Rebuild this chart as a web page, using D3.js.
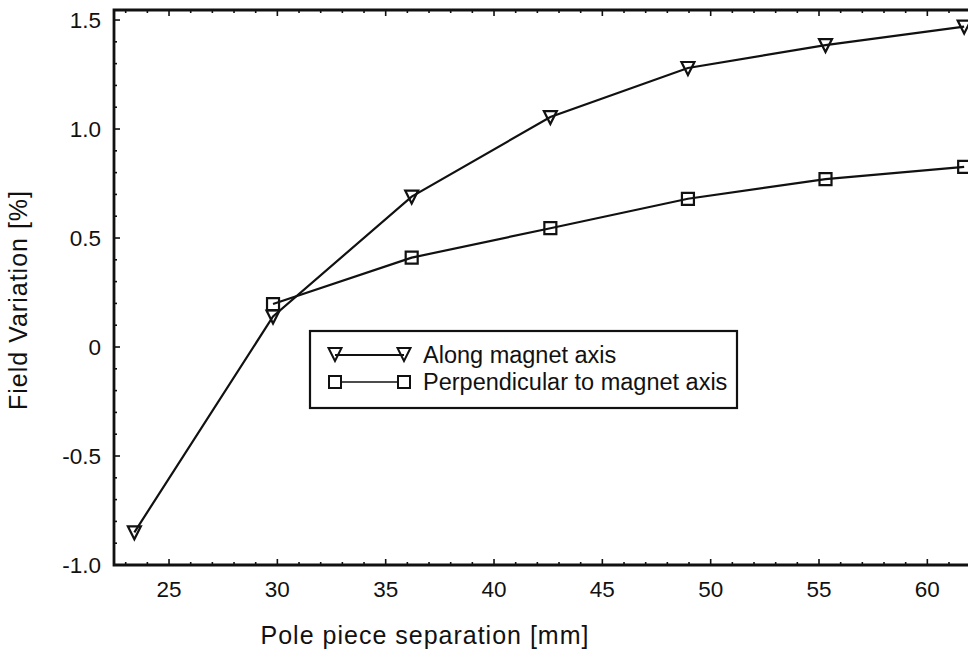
<!DOCTYPE html>
<html>
<head>
<meta charset="utf-8">
<script src="https://cdn.jsdelivr.net/npm/d3@7"></script>
<style>
  html, body { margin: 0; padding: 0; background: #fff; }
  text { font-family: 'Liberation Sans', Arial, Helvetica, sans-serif; fill: #111; }
</style>
</head>
<body>
<script>
// pole piece separation [mm]
const separation = [23.4, 29.8, 36.2, 42.6, 48.95, 55.3, 61.7];
// field variation [%]
const alongAxis = [-0.85, 0.14, 0.69, 1.055, 1.28, 1.385, 1.47];
const perpAxis = [null, 0.197, 0.41, 0.545, 0.68, 0.77, 0.826];

const xTicks = [25, 30, 35, 40, 45, 50, 55, 60];
const yTicks = [-1.0, -0.5, 0, 0.5, 1.0, 1.5];
const yTickLabels = ['-1.0', '-0.5', '0', '0.5', '1.0', '1.5'];

const seriesNames = ['Along magnet axis', 'Perpendicular to magnet axis'];

const width = 968, height = 650;
const plotLeft = 114, plotRight = 975, plotTop = 10, plotBottom = 565;

const x = d3.scaleLinear([22.46, 62.2], [plotLeft, plotRight]);
const y = d3.scaleLinear([-1.0, 1.546], [plotBottom, plotTop]);

const svg = d3.select('body').append('svg')
    .attr('width', width)
    .attr('height', height)
    .attr('viewBox', [0, 0, width, height]);

// minor / major ticks, pointing inwards
const xMinor = d3.range(23, 63, 1);
const yMinor = d3.range(-10, 16, 1).map(v => v / 10);

const ticks = svg.append('g').attr('stroke', '#111').attr('stroke-width', 1.6);
ticks.append('g').selectAll('line').data(xMinor).join('line')
    .attr('x1', d => x(d)).attr('x2', d => x(d))
    .attr('y1', plotBottom).attr('y2', d => plotBottom - (d % 5 === 0 ? 6 : 3));
ticks.append('g').selectAll('line').data(xMinor).join('line')
    .attr('x1', d => x(d)).attr('x2', d => x(d))
    .attr('y1', plotTop).attr('y2', d => plotTop + (d % 5 === 0 ? 6 : 3));
ticks.append('g').selectAll('line').data(yMinor).join('line')
    .attr('y1', d => y(d)).attr('y2', d => y(d))
    .attr('x1', plotLeft).attr('x2', d => plotLeft + (Math.round(d * 10) % 5 === 0 ? 6 : 3));

// frame (right side falls outside the picture)
svg.append('path')
    .attr('d', `M${plotRight},${plotTop}H${plotLeft}V${plotBottom}H${plotRight}`)
    .attr('fill', 'none')
    .attr('stroke', '#111')
    .attr('stroke-width', 2.8);

// tick labels
svg.append('g').selectAll('text').data(xTicks).join('text')
    .attr('x', d => x(d))
    .attr('y', 597)
    .attr('text-anchor', 'middle')
    .attr('font-size', 22.5)
    .text(d => d);

svg.append('g').selectAll('text').data(yTicks).join('text')
    .attr('x', 101)
    .attr('y', d => y(d) + 8)
    .attr('text-anchor', 'end')
    .attr('font-size', 22.5)
    .text((d, i) => yTickLabels[i]);

// axis titles
svg.append('text')
    .attr('x', 425).attr('y', 644)
    .attr('text-anchor', 'middle')
    .attr('font-size', 25)
    .attr('letter-spacing', 1)
    .text('Pole piece separation [mm]');

svg.append('text')
    .attr('transform', 'translate(27,300) rotate(-90)')
    .attr('text-anchor', 'middle')
    .attr('font-size', 25)
    .attr('letter-spacing', 1)
    .text('Field Variation [%]');

// series
const line = d3.line()
    .x(d => x(d[0]))
    .y(d => y(d[1]));

const triData = separation.map((s, i) => [s, alongAxis[i]]);
const sqData = separation.map((s, i) => [s, perpAxis[i]]).filter(d => d[1] !== null);

const triPath = (cx, cy) => `M${cx - 6.5},${cy - 6}H${cx + 6.5}L${cx},${cy + 7}Z`;
const sqPath = (cx, cy) => `M${cx - 6},${cy - 6}h12v12h-12Z`;

svg.append('path').datum(triData)
    .attr('d', line).attr('fill', 'none').attr('stroke', '#111').attr('stroke-width', 2.2);
svg.append('path').datum(sqData)
    .attr('d', line).attr('fill', 'none').attr('stroke', '#111').attr('stroke-width', 2.2);

svg.append('g').selectAll('path').data(triData).join('path')
    .attr('d', d => triPath(x(d[0]), y(d[1])))
    .attr('fill', 'none').attr('stroke', '#111').attr('stroke-width', 2.2);
svg.append('g').selectAll('path').data(sqData).join('path')
    .attr('d', d => sqPath(x(d[0]), y(d[1])))
    .attr('fill', 'none').attr('stroke', '#111').attr('stroke-width', 2.2);

// legend
const legend = svg.append('g');
legend.append('rect')
    .attr('x', 310).attr('y', 331).attr('width', 427).attr('height', 77)
    .attr('fill', '#fff').attr('stroke', '#111').attr('stroke-width', 2.2);

const rows = [355, 382];
rows.forEach((ry, i) => {
    legend.append('line')
        .attr('x1', 335).attr('x2', 404).attr('y1', ry).attr('y2', ry)
        .attr('stroke', '#111').attr('stroke-width', i === 0 ? 2 : 1.3);
    [335, 404].forEach(mx => {
        legend.append('path')
            .attr('d', i === 0 ? triPath(mx, ry - 1) : sqPath(mx, ry))
            .attr('fill', i === 0 ? 'none' : '#fff')
            .attr('stroke', '#111').attr('stroke-width', 2);
    });
    legend.append('text')
        .attr('x', 423).attr('y', ry + 8)
        .attr('font-size', 23.5)
        .text(seriesNames[i]);
});
</script>
</body>
</html>
